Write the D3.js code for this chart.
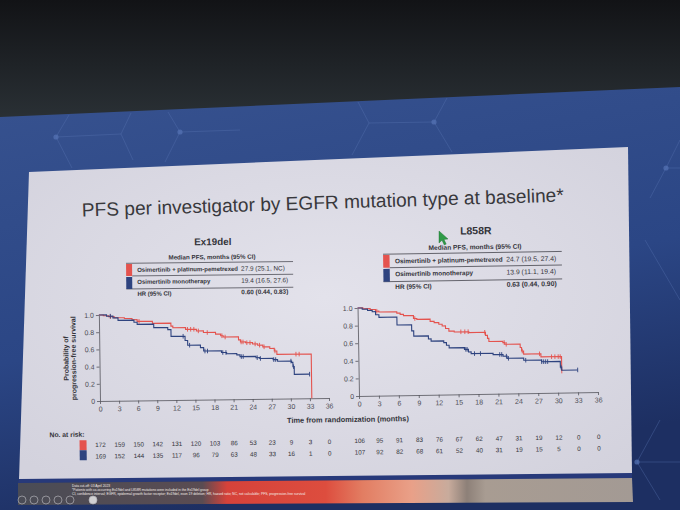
<!DOCTYPE html>
<html>
<head>
<meta charset="utf-8">
<script src="https://cdn.jsdelivr.net/npm/d3@7"></script>
<style>
  body { margin: 0; background: #15171b; overflow: hidden; }
  svg { display: block; }
  text { font-family: "Liberation Sans", Arial, sans-serif; }
</style>
</head>
<body>
<script>
// ---- values ----
const monthTicks = [0, 3, 6, 9, 12, 15, 18, 21, 24, 27, 30, 33, 36]
const survTicks = [0, 0.2, 0.4, 0.6, 0.8, 1.0]

// [month, probability after the drop]
const ex19Combo = [[0,1],[0.7,0.99],[1.5,0.98],[2.4,0.965],[4.0,0.955],[5.2,0.94],[6.0,0.92],[8.4,0.895],
  [11.3,0.86],[11.6,0.84],[13.6,0.82],[15.3,0.80],[16.4,0.78],[18.3,0.76],[19.1,0.74],[19.5,0.725],
  [21.9,0.69],[22.2,0.665],[23.0,0.655],[24.1,0.64],[24.9,0.625],[25.7,0.605],[26.8,0.585],
  [27.5,0.555],[27.9,0.515],[33.3,0]]
const ex19ComboCens = [1.8, 6.3, 13.9, 14.4, 14.9, 15.6, 17.0, 19.3, 19.8, 22.3, 22.6, 23.2, 23.7, 24.5, 25.2, 25.9, 27.6, 30.9, 31.4]
const ex19Mono = [[0,1],[1.2,0.985],[2.2,0.965],[3.0,0.935],[5.5,0.91],[6.0,0.885],[8.6,0.845],[10.8,0.82],
  [11.3,0.74],[13.5,0.69],[13.9,0.635],[15.9,0.605],[16.4,0.565],[19.2,0.545],[20.0,0.53],[21.6,0.515],
  [22.1,0.495],[24.6,0.48],[25.2,0.47],[27.3,0.455],[28.0,0.435],[30.2,0.42],[30.4,0.37],[30.6,0.28],[33.0,0.28]]
const ex19MonoCens = [1.8, 13.2, 14.2, 16.6, 17.0, 19.4, 19.9, 22.3, 22.6, 24.8, 25.3, 27.4, 27.7, 30.1, 30.5, 33.0]

const l858Combo = [[0,1],[0.8,0.99],[1.9,0.98],[2.7,0.96],[3.2,0.95],[5.9,0.935],[6.4,0.92],[6.9,0.905],
  [8.4,0.87],[8.9,0.86],[10.9,0.835],[11.5,0.82],[12.2,0.80],[12.7,0.78],[13.2,0.75],[13.7,0.72],
  [14.5,0.71],[16.7,0.70],[19.2,0.665],[19.5,0.63],[19.7,0.595],[21.8,0.58],[22.1,0.56],[24.4,0.52],
  [24.6,0.48],[24.9,0.445],[27.5,0.41],[30.6,0.245]]
const l858ComboCens = [2.9, 8.6, 15.5, 16.1, 16.6, 19.1, 22.0, 22.3, 24.7, 27.3, 29.1, 29.6, 30.1, 30.4, 30.6]
const l858Mono = [[0,1],[0.7,0.985],[1.5,0.97],[2.2,0.955],[2.7,0.92],[3.2,0.89],[5.9,0.80],[8.1,0.73],
  [8.4,0.67],[10.6,0.635],[11.0,0.61],[12.9,0.59],[13.3,0.56],[13.7,0.53],[16.0,0.51],[16.6,0.48],
  [17.0,0.46],[20.3,0.445],[21.8,0.425],[22.4,0.40],[24.9,0.375],[27.6,0.355],[30.4,0.29],[30.6,0.255],[33.0,0.255]]
const l858MonoCens = [16.2, 16.4, 17.5, 18.4, 21.3, 21.6, 22.3, 22.6, 25.2, 27.6, 27.9, 28.2, 28.5, 30.5, 33.0]

const ex19RiskCombo = [172, 159, 150, 142, 131, 120, 103, 86, 53, 23, 9, 3, 0]
const ex19RiskMono = [169, 152, 144, 135, 117, 96, 79, 63, 48, 33, 16, 1, 0]
const l858RiskCombo = [106, 95, 91, 83, 76, 67, 62, 47, 31, 19, 12, 0, 0]
const l858RiskMono = [107, 92, 82, 68, 61, 52, 40, 31, 19, 15, 5, 0, 0]

const armLabels = ["Osimertinib + platinum-pemetrexed", "Osimertinib monotherapy"]
const ex19Median = ["27.9 (25.1, NC)", "19.4 (16.5, 27.6)"]
const ex19HR = "0.60 (0.44, 0.83)"
const l858Median = ["24.7 (19.5, 27.4)", "13.9 (11.1, 19.4)"]
const l858HR = "0.63 (0.44, 0.90)"

const footNotes = [
  "Data cut-off: 03 April 2023",
  "*Patients with co-occurring Ex19del and L858R mutations were included in the Ex19del group",
  "CI, confidence interval; EGFR, epidermal growth factor receptor; Ex19del, exon 19 deletion; HR, hazard ratio; NC, not calculable; PFS, progression-free survival"
]

const RED = "#e4534e"
const BLUE = "#2e437f"
const INK = "#34343a"

const W = 680, H = 510
const svg = d3.select("body").append("svg").attr("width", W).attr("height", H)
const defs = svg.append("defs")

// ---- room / screen backdrop ----
const dark = defs.append("linearGradient").attr("id", "dark").attr("x1", 0).attr("y1", 0).attr("x2", 0).attr("y2", 1)
dark.append("stop").attr("offset", 0).attr("stop-color", "#121316")
dark.append("stop").attr("offset", 1).attr("stop-color", "#2c3338")
svg.append("rect").attr("width", W).attr("height", 130).attr("fill", "url(#dark)")

const blue = defs.append("linearGradient").attr("id", "blue").attr("x1", 0).attr("y1", 0).attr("x2", 0.3).attr("y2", 1)
blue.append("stop").attr("offset", 0).attr("stop-color", "#37528f")
blue.append("stop").attr("offset", 0.6).attr("stop-color", "#2b4685")
blue.append("stop").attr("offset", 1).attr("stop-color", "#1d2f62")
svg.append("path").attr("d", "M0,117 L680,87 L680,510 L0,510 Z").attr("fill", "url(#blue)")

const hex = [
  "M69,115 L56,137 L72,168", "M56,137 L121,134 L131,113", "M121,134 L133,160",
  "M168,112 L180,132 L165,162", "M180,132 L240,130",
  "M358,102 L369,123 L434,122 L447,98", "M369,123 L352,155", "M434,122 L452,152",
  "M680,140 L666,168 L650,198", "M666,168 L680,168",
  "M660,420 L637,462 L660,500", "M637,462 L680,462", "M645,240 L680,300"
]
svg.append("g").selectAll("path").data(hex).join("path")
  .attr("d", d => d).attr("fill", "none").attr("stroke", "#5a76b4").attr("stroke-opacity", 0.45).attr("stroke-width", 0.8)
svg.append("g").selectAll("circle").data([[56,137],[180,132],[434,122],[666,168],[637,462]]).join("circle")
  .attr("cx", d => d[0]).attr("cy", d => d[1]).attr("r", 2.6).attr("fill", "#5573b5").attr("opacity", 0.7)

// ---- slide ----
const paper = defs.append("radialGradient").attr("id", "paper").attr("cx", 0.5).attr("cy", 0.45).attr("r", 0.7)
paper.append("stop").attr("offset", 0).attr("stop-color", "#e3e2eb")
paper.append("stop").attr("offset", 1).attr("stop-color", "#d3d2dd")
svg.append("path").attr("d", "M29,172 L628,147 L632,474 L19,480 Z").attr("fill", "url(#paper)")
svg.append("path").attr("d", "M19,479 L632,473 L632,478 L18,483 Z").attr("fill", "#27397a")

const strip = defs.append("linearGradient").attr("id", "strip").attr("x1", 0).attr("y1", 0).attr("x2", 1).attr("y2", 0)
;[[0, "#4a4c56"], [0.3, "#5a4c52"], [0.34, "#d6423a"], [0.5, "#dd4d3e"], [0.56, "#e27d62"],
  [0.64, "#e9a088"], [0.7, "#c8ab9c"], [0.73, "#8d8078"], [0.76, "#a89c92"], [1, "#a39a94"]]
  .forEach(s => strip.append("stop").attr("offset", s[0]).attr("stop-color", s[1]))
svg.append("path").attr("d", "M18,483 L632,478 L633,502 L18,505 Z").attr("fill", "url(#strip)")

const notes = svg.append("g").attr("transform", "translate(72,486.5)")
notes.selectAll("text").data(footNotes).join("text")
  .attr("y", (d, i) => i * 4.4).attr("font-size", 3.3).attr("fill", "#f4eee8").text(d => d)
svg.append("g").selectAll("circle").data([22, 34, 46, 58, 70, 93]).join("circle")
  .attr("cx", d => d).attr("cy", 500).attr("r", 4)
  .attr("fill", (d, i) => i === 5 ? "#f2f2f2" : "none")
  .attr("stroke", "#c9c9cf").attr("stroke-width", 0.7).attr("opacity", 0.8)

// ---- title ----
svg.append("text")
  .attr("transform", "translate(323,209) rotate(-1.78)")
  .attr("text-anchor", "middle").attr("font-size", 19).attr("fill", "#38383c")
  .attr("textLength", 482).attr("lengthAdjust", "spacingAndGlyphs")
  .text("PFS per investigator by EGFR mutation type at baseline*")

// ---- median PFS tables ----
function medianTable(cfg) {
  const g = svg.append("g")
    .attr("transform", `translate(${cfg.x},${cfg.y}) rotate(${cfg.rot}) scale(${cfg.s})`)
    .attr("fill", INK)
  g.append("text").attr("x", 87).attr("y", -14).attr("text-anchor", "middle")
    .attr("font-size", 9.8).attr("font-weight", "bold").text(cfg.title)
  g.append("text").attr("x", 86).attr("y", 0).attr("text-anchor", "middle")
    .attr("font-size", 6.2).attr("font-weight", "bold").text("Median PFS, months (95% CI)")
  const rule = [[0, 3.3], [6, 16], [0, 29]]
  g.selectAll("line").data(rule).join("line")
    .attr("x1", d => d[0]).attr("x2", 167).attr("y1", d => d[1]).attr("y2", d => d[1])
    .attr("stroke", "#3c3c44").attr("stroke-width", 0.7)
  g.selectAll("rect").data([RED, BLUE]).join("rect")
    .attr("x", 0).attr("y", (d, i) => 4 + i * 13).attr("width", 6).attr("height", 12).attr("fill", d => d)
  armLabels.forEach((lab, i) => {
    g.append("text").attr("x", 11).attr("y", 12 + i * 12).attr("font-size", 6).attr("font-weight", "bold").text(lab)
    g.append("text").attr("x", 115).attr("y", 12 + i * 12).attr("font-size", 6.4).text(cfg.median[i])
  })
  g.append("text").attr("x", 11).attr("y", 36).attr("font-size", 6).attr("font-weight", "bold").text("HR (95% CI)")
  g.append("text").attr("x", 115).attr("y", 35.5).attr("font-size", 6.4).attr("font-weight", "bold").text(cfg.hr)
}
medianTable({x: 126, y: 260, rot: -0.6, s: 1, title: "Ex19del", median: ex19Median, hr: ex19HR})
medianTable({x: 383, y: 250.7, rot: -0.9, s: 1.07, title: "L858R", median: l858Median, hr: l858HR})

// ---- Kaplan-Meier panels ----
function survAt(steps, t) {
  let s = 1
  steps.forEach(d => { if (d[0] <= t) s = d[1] })
  return s
}

function kmPanel(cfg) {
  const g = svg.append("g")
    .attr("transform", `translate(${cfg.ox},${cfg.oy}) rotate(${cfg.rot}) translate(0,${-cfg.h})`)
  const x = d3.scaleLinear().domain([0, 36]).range([0, cfg.w])
  const y = d3.scaleLinear().domain([0, 1]).range([cfg.h, 0])

  const xa = g.append("g").attr("transform", `translate(0,${cfg.h})`)
    .call(d3.axisBottom(x).tickValues(monthTicks).tickSize(3).tickSizeOuter(0).tickPadding(2.5))
  const ya = g.append("g")
    .call(d3.axisLeft(y).tickValues(survTicks).tickSize(3).tickSizeOuter(0).tickPadding(2)
      .tickFormat(d => d === 0 ? "0" : d.toFixed(1)))
  ;[xa, ya].forEach(a => {
    a.selectAll("path, line").attr("stroke", "#55555c").attr("stroke-width", 0.8)
    a.selectAll("text").attr("font-size", 7).attr("fill", "#4a4a52").attr("font-family", "Liberation Sans, Arial, sans-serif")
  })

  const line = d3.line().x(d => x(d[0])).y(d => y(d[1])).curve(d3.curveStepAfter)
  cfg.arms.forEach(arm => {
    g.append("path").datum(arm.steps).attr("d", line)
      .attr("fill", "none").attr("stroke", arm.color).attr("stroke-width", 1.1)
    g.append("g").selectAll("line").data(arm.cens).join("line")
      .attr("x1", d => x(d)).attr("x2", d => x(d))
      .attr("y1", d => y(survAt(arm.steps, d)) - 2.3).attr("y2", d => y(survAt(arm.steps, d)) + 2.3)
      .attr("stroke", arm.color).attr("stroke-width", 0.9)
  })

  // numbers at risk
  cfg.arms.forEach((arm, i) => {
    g.append("g").selectAll("text").data(arm.risk).join("text")
      .attr("x", (d, j) => x(monthTicks[j])).attr("y", cfg.h + cfg.riskY[i])
      .attr("text-anchor", "middle").attr("font-size", 6.3).attr("fill", INK).text(d => d)
  })
  return g
}

const left = kmPanel({
  ox: 100, oy: 401, w: 229, h: 86, rot: -0.75, riskY: [46, 57.5],
  arms: [
    {steps: ex19Combo, cens: ex19ComboCens, color: RED, risk: ex19RiskCombo},
    {steps: ex19Mono, cens: ex19MonoCens, color: BLUE, risk: ex19RiskMono}
  ]
})
kmPanel({
  ox: 359, oy: 396, w: 239, h: 88, rot: -0.95, riskY: [47, 58.5],
  arms: [
    {steps: l858Combo, cens: l858ComboCens, color: RED, risk: l858RiskCombo},
    {steps: l858Mono, cens: l858MonoCens, color: BLUE, risk: l858RiskMono}
  ]
})

// y axis title, risk legend (left panel frame)
left.append("text").attr("transform", "translate(-31,43) rotate(-90)")
  .attr("text-anchor", "middle").attr("font-size", 7).attr("font-weight", "bold").attr("fill", INK)
  .text("Probability of")
left.append("text").attr("transform", "translate(-23.5,43) rotate(-90)")
  .attr("text-anchor", "middle").attr("font-size", 7).attr("font-weight", "bold").attr("fill", INK)
  .text("progression-free survival")
left.append("text").attr("x", -51).attr("y", 86 + 35.5)
  .attr("font-size", 6.8).attr("font-weight", "bold").attr("fill", INK).text("No. at risk:")
left.selectAll("rect.sw").data([RED, BLUE]).join("rect").attr("class", "sw")
  .attr("x", -21).attr("y", (d, i) => 86 + 39 + i * 10).attr("width", 7).attr("height", 10).attr("fill", d => d)

svg.append("text").attr("transform", "translate(348,422) rotate(-0.9)")
  .attr("text-anchor", "middle").attr("font-size", 7.4).attr("font-weight", "bold").attr("fill", INK)
  .text("Time from randomization (months)")

// presenter's mouse pointer
svg.append("path").attr("d", "M439,231 L439,243 L442,240.2 L444.3,245 L446.2,244.1 L444,239.4 L448,239 Z")
  .attr("fill", "#2f9a47").attr("stroke", "#1d6b30").attr("stroke-width", 0.4)
</script>
</body>
</html>
